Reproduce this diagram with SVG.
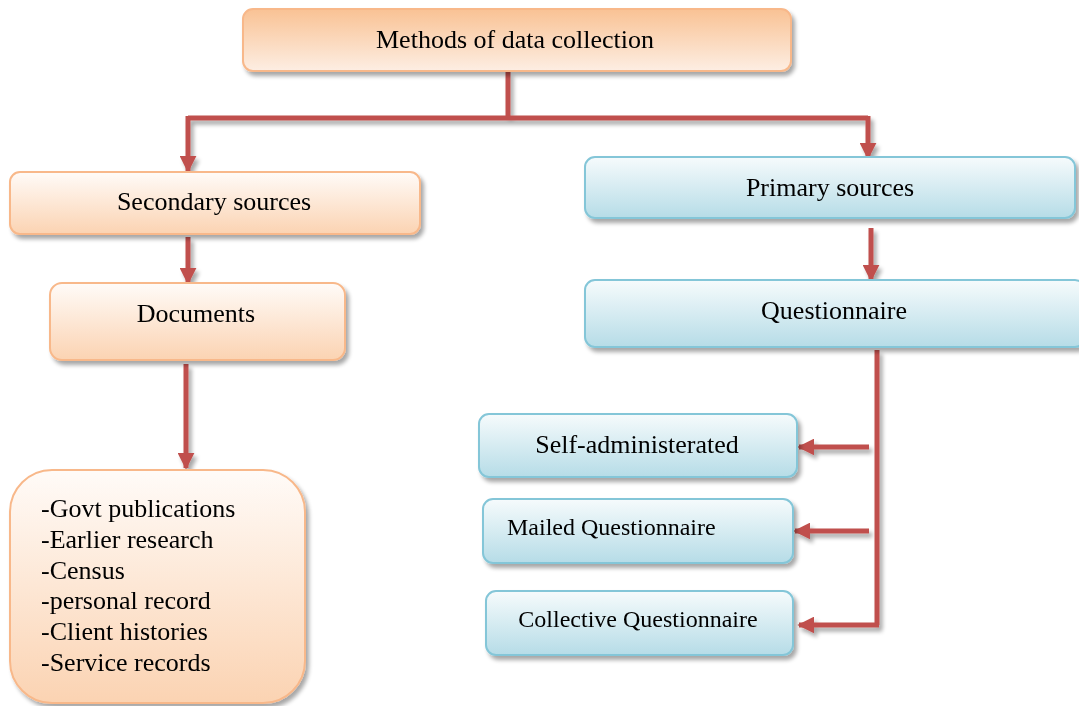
<svg xmlns="http://www.w3.org/2000/svg" width="1079" height="706" viewBox="0 0 1079 706">
  <defs>
    <linearGradient id="gTop" x1="0" y1="0" x2="0" y2="1">
      <stop offset="0" stop-color="#f9c294"/>
      <stop offset="1" stop-color="#fdeee3"/>
    </linearGradient>
    <linearGradient id="gOrange" x1="0" y1="0" x2="0" y2="1">
      <stop offset="0" stop-color="#fffbf8"/>
      <stop offset="1" stop-color="#fbd3b2"/>
    </linearGradient>
    <linearGradient id="gBlue" x1="0" y1="0" x2="0" y2="1">
      <stop offset="0" stop-color="#f6fbfc"/>
      <stop offset="1" stop-color="#b6dce7"/>
    </linearGradient>
    <filter id="shadow" x="-10%" y="-20%" width="125%" height="150%">
      <feGaussianBlur in="SourceAlpha" stdDeviation="2"/>
      <feOffset dx="3" dy="4" result="b"/>
      <feComponentTransfer><feFuncA type="linear" slope="0.35"/></feComponentTransfer>
      <feMerge><feMergeNode/><feMergeNode in="SourceGraphic"/></feMerge>
    </filter>
    <marker id="arrow" viewBox="0 0 10 10" refX="9" refY="5" markerWidth="3.4" markerHeight="3.4" orient="auto" markerUnits="strokeWidth">
      <path d="M0,0 L10,5 L0,10 z" fill="#c0504d"/>
    </marker>
    <style>
      .orange { fill: url(#gOrange); stroke: #f8b88a; stroke-width: 2; }
      .top { fill: url(#gTop); stroke: #f8b88a; stroke-width: 2; }
      .blue { fill: url(#gBlue); stroke: #84c6d8; stroke-width: 2; }
      .lbl { font-family: "Liberation Serif", "Times New Roman", serif; font-size: 26px; fill: #000; text-anchor: middle; }
      .small { font-size: 24px; }
      .list { font-family: "Liberation Serif", "Times New Roman", serif; font-size: 26px; fill: #000; }
      .conn { fill: none; stroke: #c0504d; stroke-width: 5; }
    </style>
  </defs>

  <!-- connectors -->
  <g id="connectors" filter="url(#shadow)">
    <path class="conn" d="M508,72 V118"/>
    <path class="conn" d="M188,118 H868"/>
    <path class="conn" d="M188,116 V171" marker-end="url(#arrow)"/>
    <path class="conn" d="M868,116 V158" marker-end="url(#arrow)"/>
    <path class="conn" d="M188,237 V283" marker-end="url(#arrow)"/>
    <path class="conn" d="M871,228 V280" marker-end="url(#arrow)"/>
    <path class="conn" d="M186,364 V468" marker-end="url(#arrow)"/>
    <path class="conn" d="M877,350 V625"/>
    <path class="conn" d="M869,447 H799" marker-end="url(#arrow)"/>
    <path class="conn" d="M869,531 H795" marker-end="url(#arrow)"/>
    <path class="conn" d="M879,625 H799" marker-end="url(#arrow)"/>
  </g>

  <g id="node-methods" filter="url(#shadow)">
    <rect class="top" x="243" y="9" width="548" height="62" rx="10"/>
    <text class="lbl" x="515" y="48">Methods of data collection</text>
  </g>

  <g id="node-secondary" filter="url(#shadow)">
    <rect class="orange" x="10" y="172" width="410" height="62" rx="10"/>
    <text class="lbl" x="214" y="210">Secondary sources</text>
  </g>

  <g id="node-documents" filter="url(#shadow)">
    <rect class="orange" x="50" y="283" width="295" height="77" rx="12"/>
    <text class="lbl" x="196" y="322">Documents</text>
  </g>

  <g id="node-document-list" filter="url(#shadow)">
    <rect class="orange" x="10" y="470" width="295" height="233" rx="42"/>
    <text class="list" x="41" y="517">-Govt publications</text>
    <text class="list" x="41" y="548">-Earlier research</text>
    <text class="list" x="41" y="579">-Census</text>
    <text class="list" x="41" y="609">-personal record</text>
    <text class="list" x="41" y="640">-Client histories</text>
    <text class="list" x="41" y="671">-Service records</text>
  </g>

  <g id="node-primary" filter="url(#shadow)">
    <rect class="blue" x="585" y="157" width="490" height="61" rx="10"/>
    <text class="lbl" x="830" y="196">Primary sources</text>
  </g>

  <g id="node-questionnaire" filter="url(#shadow)">
    <rect class="blue" x="585" y="280" width="500" height="67" rx="10"/>
    <text class="lbl" x="834" y="319">Questionnaire</text>
  </g>

  <g id="node-self" filter="url(#shadow)">
    <rect class="blue" x="479" y="414" width="318" height="63" rx="10"/>
    <text class="lbl" x="637" y="453">Self-administerated</text>
  </g>

  <g id="node-mailed" filter="url(#shadow)">
    <rect class="blue" x="483" y="499" width="310" height="64" rx="10"/>
    <text class="lbl small" x="507" y="535" style="text-anchor:start">Mailed Questionnaire</text>
  </g>

  <g id="node-collective" filter="url(#shadow)">
    <rect class="blue" x="486" y="591" width="307" height="64" rx="10"/>
    <text class="lbl small" x="638" y="627">Collective Questionnaire</text>
  </g>
</svg>
